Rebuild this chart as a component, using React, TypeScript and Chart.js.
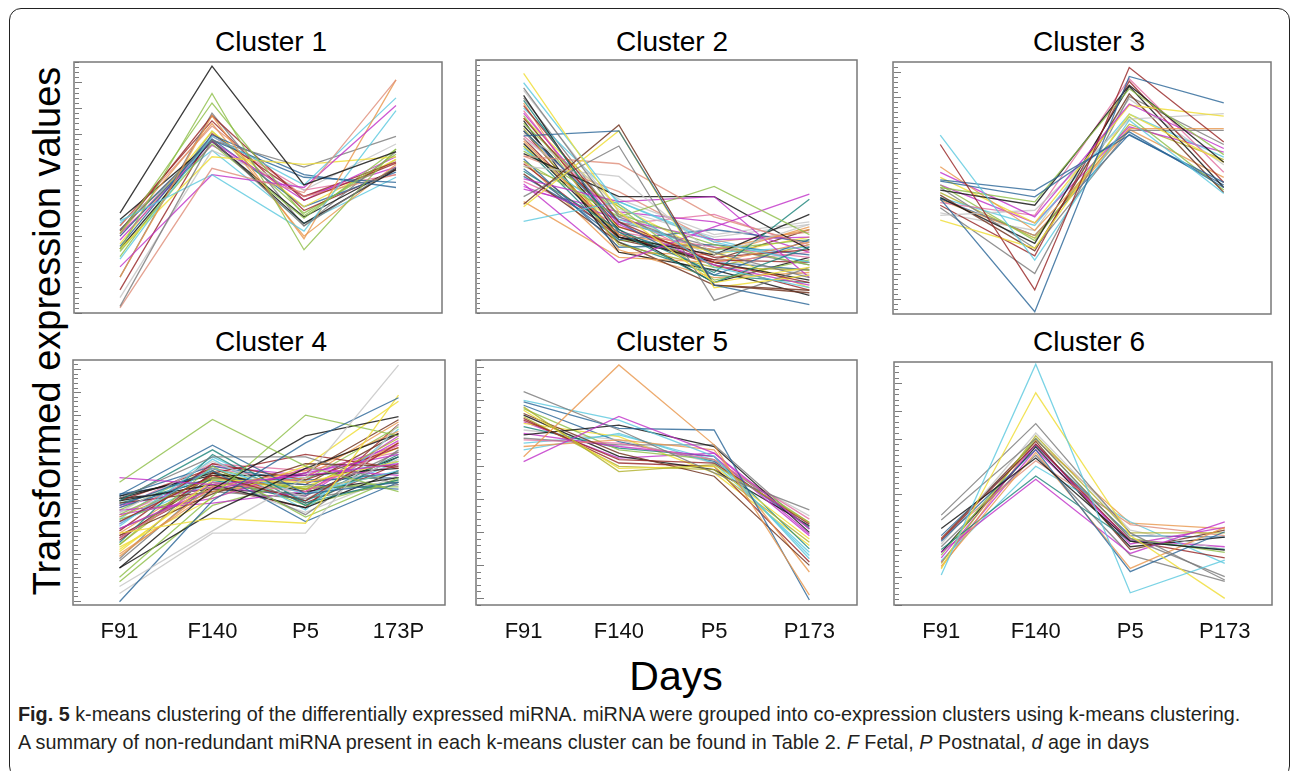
import React, { useEffect, useRef } from 'react';
import { Chart, registerables } from 'chart.js';

Chart.register(...registerables);

// ---------- data ----------
const DAYS = ['F91', 'F140', 'P5', 'P173'];
const DAYS_C4 = ['F91', 'F140', 'P5', '173P'];

// each row: [F91, F140, P5, P173]
const CLUSTER1: number[][] = [
  [3.9, 9.64, 5.0, 6.3], [0.26, 6.75, 3.4, 5.7], [0.2, 5.65, 4.7, 9.1], [2.5, 8.57, 2.47, 6.4],
  [3.1, 8.2, 3.8, 6.2], [3.6, 5.4, 3.2, 7.9], [1.8, 5.4, 4.9, 8.1], [1.4, 7.7, 2.9, 9.1],
  [2.1, 6.9, 5.0, 8.4], [2.5, 6.1, 5.8, 6.1], [3.25, 6.75, 5.7, 6.9], [2.6, 6.95, 5.4, 4.9],
  [3.0, 6.75, 5.3, 5.1], [3.2, 7.7, 4.4, 5.85], [2.5, 6.75, 3.5, 5.6], [2.4, 6.6, 3.7, 6.4],
  [3.4, 7.3, 4.55, 5.4], [2.85, 6.7, 4.4, 6.1], [3.1, 7.4, 3.0, 5.8], [0.9, 7.0, 4.55, 5.9],
  [3.65, 6.7, 3.75, 5.65], [1.4, 7.8, 3.4, 6.3], [0.6, 6.35, 4.8, 6.6], [2.7, 7.1, 4.15, 6.0],
  [3.25, 6.8, 4.15, 5.5], [3.5, 6.35, 3.5, 5.3], [3.4, 7.5, 4.0, 5.6], [2.2, 7.1, 3.9, 6.0],
  [3.0, 6.9, 4.8, 5.4], [3.1, 6.55, 4.55, 5.7],
];
const CLUSTER1_COLORS = ['k', 'g', 's', 'gr', 'gr', 'c', 'm', 'o', 'c', 'y', 'g', 'b', 'b', 'r', 'k',
  'gr', 's', 'm', 'o', 'r', 'k', 'g', 'lg', 'y', 'b', 'c', 'r', 'gr', 'p', 'm'];

const CLUSTER2: number[][] = [
  [9.47, 4.0, 1.2, 1.8], [9.1, 4.3, 1.8, 1.0], [8.9, 3.8, 2.4, 1.4], [8.4, 3.2, 1.2, 2.6],
  [8.2, 3.6, 2.0, 1.2], [7.0, 7.2, 1.1, 0.33], [4.3, 7.43, 1.1, 0.9], [4.2, 7.2, 1.0, 1.5],
  [4.6, 6.6, 0.5, 1.8], [6.2, 5.9, 3.8, 2.7], [5.8, 5.4, 2.3, 3.5], [6.0, 3.8, 5.0, 3.1],
  [5.1, 2.0, 3.4, 4.7], [5.3, 4.4, 4.6, 1.4], [6.3, 4.6, 4.6, 2.5], [3.62, 4.4, 2.8, 2.0],
  [4.4, 2.2, 2.0, 2.8], [5.6, 3.3, 1.6, 4.5], [6.7, 3.0, 2.3, 3.9], [7.2, 3.6, 1.5, 2.9],
  [7.7, 3.4, 2.2, 2.5], [7.5, 3.9, 2.7, 1.9], [6.8, 3.1, 2.5, 3.3], [7.9, 3.5, 1.9, 1.1],
  [6.9, 4.1, 3.0, 3.5], [8.0, 3.2, 2.6, 2.2], [8.6, 3.0, 2.0, 1.3], [6.5, 3.7, 2.4, 2.6],
  [7.3, 2.7, 1.8, 1.7], [6.1, 2.6, 2.7, 2.3], [5.0, 3.7, 2.9, 3.0], [5.5, 2.8, 1.1, 0.8],
  [6.4, 4.2, 1.3, 2.1], [7.1, 4.5, 3.1, 3.6], [7.6, 2.4, 1.7, 0.7], [5.9, 3.0, 2.1, 2.0],
  [8.3, 2.5, 1.4, 1.6], [5.7, 2.9, 3.3, 2.8], [6.6, 3.4, 2.4, 1.0], [7.0, 3.9, 2.0, 2.4],
  [8.8, 4.0, 2.2, 1.5], [7.8, 2.9, 2.5, 2.9], [6.2, 4.8, 2.8, 3.2], [5.4, 3.2, 2.0, 1.7],
  [7.4, 3.3, 1.2, 2.2], [6.0, 2.4, 2.3, 3.4], [8.1, 4.4, 2.9, 2.0], [4.9, 4.0, 3.6, 2.4],
  [6.6, 2.8, 1.5, 1.2], [7.7, 4.2, 2.3, 3.0], [5.2, 3.5, 3.9, 2.6], [6.9, 3.1, 1.9, 0.9],
  [8.5, 3.6, 2.6, 1.9], [5.8, 4.3, 1.8, 2.7], [7.2, 2.9, 2.1, 3.3],
];
const CLUSTER2_COLORS = ['y', 'c', 'g', 't', 'r', 'b', 'br', 'y', 'g', 's', 'lg', 'gr', 'm', 'm', 'k',
  'c', 'o', 't', 'k', 'b', 'r', 'gr', 'o', 'm', 'lg', 'p', 'k', 'c', 'ol', 'b', 'm', 'br', 'gr', 'lg',
  'k', 'r', 'o', 'b', 'y', 'p', 'lg', 'gr', 's', 'b', 'k', 'o', 'c', 'm', 't', 'y', 'p', 'r', 'g', 'ol', 'br'];

const CLUSTER3: number[][] = [
  [4.55, 0.09, 9.39, 8.34], [6.7, 0.95, 9.74, 6.8], [7.07, 2.13, 7.66, 4.76], [5.3, 4.89, 7.07, 5.2],
  [5.25, 4.63, 7.2, 5.0], [5.0, 4.43, 8.9, 6.3], [4.9, 4.3, 9.04, 6.0], [5.82, 3.3, 7.33, 7.33],
  [5.6, 3.84, 8.3, 6.54], [5.4, 3.6, 8.25, 7.82], [3.9, 4.1, 7.7, 7.92], [3.71, 2.6, 7.9, 6.0],
  [4.6, 2.79, 9.0, 5.0], [5.0, 2.6, 7.26, 7.26], [4.3, 2.3, 9.2, 5.2], [4.7, 2.5, 8.7, 4.8],
  [4.4, 3.9, 9.3, 5.6], [4.6, 3.5, 7.9, 6.2], [5.1, 2.9, 7.8, 4.9], [4.2, 1.6, 8.6, 6.7],
  [5.1, 3.6, 7.4, 6.4], [4.5, 3.1, 7.3, 5.4], [4.55, 3.1, 7.1, 5.1], [4.0, 3.3, 8.5, 5.9],
  [4.8, 3.0, 7.5, 6.1],
];
const CLUSTER3_COLORS = ['b', 'r', 'c', 'b', 'b', 'gr', 'k', 'o', 'm', 'y', 'lg', 'y', 'k', 'g', 'r',
  'br', 'p', 'c', 'gr', 'g', 'm', 'o', 'b', 'lg', 'ol'];

const CLUSTER4: number[][] = [
  [0.8, 3.2, 5.5, 10.36], [0.14, 4.5, 7.0, 8.95], [3.1, 3.74, 3.53, 9.06], [5.3, 8.01, 6.0, 4.9],
  [1.2, 4.7, 8.2, 7.3], [1.6, 5.0, 7.3, 8.13], [5.5, 5.2, 5.6, 6.1], [4.75, 6.9, 4.8, 5.3],
  [4.6, 6.4, 6.4, 5.2], [0.5, 3.1, 3.1, 7.8], [4.5, 6.7, 4.4, 5.4], [1.6, 4.0, 5.9, 7.4],
  [3.6, 5.6, 4.5, 7.0], [2.3, 5.4, 5.3, 6.2], [2.1, 5.1, 5.8, 7.5], [3.5, 5.9, 4.8, 5.8],
  [3.3, 5.0, 5.7, 6.5], [2.9, 5.3, 4.9, 6.9], [2.6, 6.0, 3.8, 5.5], [3.0, 4.8, 6.1, 6.0],
  [4.5, 5.2, 4.2, 5.8], [4.3, 5.8, 3.6, 5.3], [3.8, 5.5, 5.0, 7.2], [4.0, 6.2, 4.6, 6.3],
  [3.9, 4.6, 5.9, 5.6], [2.8, 5.7, 6.5, 5.9], [3.4, 6.3, 4.1, 7.6], [2.2, 4.9, 5.5, 7.9],
  [1.9, 5.3, 4.7, 6.6], [3.7, 5.0, 5.1, 5.1], [2.5, 4.6, 6.0, 8.8], [4.2, 5.5, 5.2, 5.0],
  [3.2, 6.1, 5.4, 6.8], [4.1, 4.4, 4.9, 7.1], [4.7, 5.6, 5.6, 5.9], [3.8, 5.9, 5.3, 6.0],
  [2.7, 6.5, 4.3, 6.4], [4.4, 4.9, 5.7, 8.0], [1.0, 4.3, 5.4, 7.7], [2.0, 5.8, 3.9, 6.7],
  [4.6, 5.7, 4.9, 5.5], [4.4, 5.4, 4.5, 6.5], [4.7, 6.0, 5.3, 5.7], [4.3, 5.1, 4.7, 7.3],
  [4.5, 5.9, 4.4, 6.1], [3.6, 5.3, 5.5, 6.2], [3.1, 5.6, 4.9, 7.0], [2.4, 5.2, 5.1, 6.8],
  [3.9, 5.8, 4.3, 5.4], [4.2, 6.1, 5.8, 6.6], [3.3, 4.9, 4.6, 5.2], [2.9, 5.5, 5.2, 7.4],
  [4.0, 5.3, 4.0, 5.6], [3.5, 6.0, 5.6, 6.9], [4.6, 5.0, 4.8, 6.4], [2.6, 5.7, 5.0, 5.7],
  [3.7, 6.4, 4.5, 6.2], [4.8, 5.4, 5.4, 5.5], [3.0, 5.1, 4.2, 7.8], [4.1, 5.9, 5.0, 5.3],
];
const CLUSTER4_COLORS = ['lg', 'b', 'y', 'gr', 'gr', 'k', 'm', 'b', 'g', 'lg', 't', 'k', 'r', 'y', 'o',
  'c', 'm', 'p', 'gr', 'br', 'k', 'b', 'ol', 'lg', 'm', 'r', 'c', 'o', 'g', 'gr', 'y', 'b', 'r', 'm',
  'k', 'p', 't', 'br', 'gr', 'g', 'k', 't', 'b', 'm', 'r', 'c', 'o', 'y', 'gr', 'p', 'g', 'br', 'lg',
  'm', 'k', 'ol', 'c', 'b', 'r', 'gr'];

const CLUSTER5: number[][] = [
  [4.49, 7.27, 4.85, 0.3], [4.34, 5.71, 4.6, 2.3], [6.46, 5.3, 4.0, 2.88], [6.15, 5.35, 5.3, 0.15],
  [6.2, 5.6, 4.5, 1.4], [6.0, 4.04, 4.25, 2.5], [5.9, 4.14, 4.2, 2.0], [5.15, 5.45, 4.8, 2.2],
  [5.6, 4.4, 4.3, 2.45], [5.8, 4.6, 3.9, 1.2], [5.0, 4.9, 4.4, 2.6], [4.8, 5.0, 4.7, 1.0],
  [5.2, 4.8, 4.5, 2.1], [4.7, 5.2, 4.3, 1.6], [5.95, 4.7, 4.4, 2.5], [5.05, 4.85, 4.85, 2.3],
  [5.7, 4.2, 4.1, 1.9], [5.4, 4.75, 4.5, 1.7], [5.75, 4.5, 4.1, 2.4], [5.65, 4.3, 4.2, 1.3],
  [5.5, 5.1, 4.0, 1.8], [5.55, 4.45, 4.6, 2.15], [5.3, 5.0, 4.3, 2.7], [6.05, 4.95, 4.35, 2.35],
  [4.9, 5.15, 4.4, 1.5],
];
const CLUSTER5_COLORS = ['o', 'm', 'g', 'b', 'c', 'ol', 'y', 'k', 'r', 'br', 'p', 'o', 'm', 'c', 'gr',
  'g', 'ol', 't', 'k', 'r', 'y', 'm', 'lg', 'b', 'c'];

const CLUSTER6: number[][] = [
  [1.08, 8.68, 0.44, 1.62], [1.3, 7.65, 2.5, 0.24], [3.24, 6.54, 2.6, 0.9], [3.06, 6.0, 2.4, 1.02],
  [2.76, 5.3, 2.3, 1.98], [2.3, 5.6, 1.2, 2.64], [1.4, 5.5, 1.32, 2.8], [1.9, 4.53, 1.86, 3.0],
  [2.0, 4.65, 2.3, 2.0], [2.35, 5.8, 2.3, 1.7], [1.5, 6.1, 2.6, 2.6], [1.8, 6.0, 2.4, 1.9],
  [2.4, 5.2, 2.9, 2.5], [2.2, 6.2, 2.7, 2.0], [1.7, 5.8, 2.2, 2.8], [2.4, 5.9, 2.0, 2.7],
  [1.6, 5.0, 3.0, 1.5], [1.9, 5.7, 2.1, 2.45], [2.1, 5.4, 1.8, 0.85], [1.35, 5.95, 2.95, 2.75],
  [1.55, 5.6, 2.35, 2.1], [2.5, 5.75, 2.5, 2.45],
];
const CLUSTER6_COLORS = ['c', 'y', 'g', 'g', 'k', 'b', 'o', 'm', 't', 'r', 'ol', 'gr', 's', 'lg', 'm',
  'br', 'c', 'k', 'g', 'o', 'm', 'b'];

// ---------- styles ----------
const PALETTE: Record<string, string> = {
  k: 'rgba(25,25,25,0.85)',
  g: 'rgba(120,120,120,0.8)',
  lg: 'rgba(195,195,195,0.8)',
  b: 'rgba(40,100,150,0.8)',
  c: 'rgba(90,200,222,0.8)',
  gr: 'rgba(140,190,70,0.8)',
  y: 'rgba(240,222,60,0.85)',
  o: 'rgba(232,150,75,0.8)',
  s: 'rgba(222,140,120,0.8)',
  m: 'rgba(192,48,200,0.8)',
  r: 'rgba(150,35,35,0.8)',
  p: 'rgba(226,110,160,0.8)',
  ol: 'rgba(175,175,40,0.8)',
  br: 'rgba(115,55,35,0.85)',
  t: 'rgba(25,130,120,0.8)',
};

type Box = { l: number; t: number; r: number; b: number };
type PanelCfg = {
  title: string;
  titleX: number;
  titleTop: number;
  box: Box;
  yMax: number;
  tickOrigin: number;
  labels: string[];
  rows: number[][];
  colors: string[];
  showX: boolean;
  uniformTicks?: boolean;
};

const PANELS: PanelCfg[] = [
  { title: 'Cluster 1', titleX: 271, titleTop: 28, box: { l: 74, t: 62, r: 442, b: 313 }, yMax: 9.8, tickOrigin: 0, labels: DAYS, rows: CLUSTER1, colors: CLUSTER1_COLORS, showX: false },
  { title: 'Cluster 2', titleX: 672, titleTop: 28, box: { l: 476, t: 60, r: 857, b: 313 }, yMax: 10, tickOrigin: 0, labels: DAYS, rows: CLUSTER2, colors: CLUSTER2_COLORS, showX: false, uniformTicks: true },
  { title: 'Cluster 3', titleX: 1089, titleTop: 28, box: { l: 893, t: 62, r: 1271, b: 314 }, yMax: 9.96, tickOrigin: 0.58, labels: DAYS, rows: CLUSTER3, colors: CLUSTER3_COLORS, showX: false },
  { title: 'Cluster 4', titleX: 271, titleTop: 328, box: { l: 73, t: 360, r: 445, b: 605 }, yMax: 10.58, tickOrigin: 0.19, labels: DAYS_C4, rows: CLUSTER4, colors: CLUSTER4_COLORS, showX: true },
  { title: 'Cluster 5', titleX: 672, titleTop: 328, box: { l: 476, t: 360, r: 857, b: 605 }, yMax: 7.42, tickOrigin: 0.21, labels: DAYS, rows: CLUSTER5, colors: CLUSTER5_COLORS, showX: true },
  { title: 'Cluster 6', titleX: 1089, titleTop: 328, box: { l: 894, t: 362, r: 1272, b: 605 }, yMax: 8.76, tickOrigin: 0, labels: DAYS, rows: CLUSTER6, colors: CLUSTER6_COLORS, showX: true },
];

const PAD = 2;
const XAXIS_H = 45;

const frameAndTicks = {
  id: 'frameAndTicks',
  afterDatasetsDraw(chart: any, _args: any, opts: any) {
    const { ctx, chartArea: a } = chart;
    const y = chart.scales.y;
    ctx.save();
    ctx.strokeStyle = 'rgba(120,120,120,1)';
    ctx.lineWidth = 1.5;
    ctx.strokeRect(a.left, a.top, a.right - a.left, a.bottom - a.top);
    ctx.lineWidth = 1;
    ctx.strokeStyle = 'rgba(110,110,110,0.9)';
    const div = 5;
    const minorStep = 1 / div;
    let k = Math.ceil((y.min - opts.origin) / minorStep);
    for (let guard = 0; guard < 500; guard++, k++) {
      const v = opts.origin + k * minorStep;
      if (v > y.max) break;
      const py = Math.round(y.getPixelForValue(v)) + 0.5;
      const major = ((k % div) + div) % div === 0;
      const len = opts.uniform ? 3 : major ? 7 : 4;
      ctx.beginPath();
      ctx.moveTo(a.left + 1, py);
      ctx.lineTo(a.left + 1 + len, py);
      ctx.stroke();
    }
    ctx.restore();
  },
};

function Panel({ cfg }: { cfg: PanelCfg }) {
  const ref = useRef<HTMLCanvasElement | null>(null);
  const w = cfg.box.r - cfg.box.l + PAD * 2;
  const h = cfg.box.b - cfg.box.t + PAD * 2 + (cfg.showX ? XAXIS_H - PAD : 0);

  useEffect(() => {
    if (!ref.current) return;
    const xScale: any = {
      type: 'category',
      offset: true,
      display: cfg.showX,
      grid: { display: false, drawTicks: false },
      border: { display: false },
      ticks: {
        font: { family: '"Liberation Sans", Arial, sans-serif', size: 22 },
        color: '#111',
        padding: 14,
        maxRotation: 0,
        autoSkip: false,
      },
    };
    if (cfg.showX) {
      xScale.afterFit = (s: any) => {
        s.height = XAXIS_H;
      };
    }
    const chart = new Chart(ref.current, {
      type: 'line',
      data: {
        labels: cfg.labels,
        datasets: cfg.rows.map((row, i) => ({
          data: row,
          borderColor: PALETTE[cfg.colors[i]] || PALETTE.g,
          borderWidth: 1.3,
          pointRadius: 0,
          tension: 0,
          fill: false,
        })),
      },
      options: {
        responsive: false,
        animation: false,
        devicePixelRatio: 1,
        layout: { padding: { left: PAD, right: PAD, top: PAD, bottom: cfg.showX ? 0 : PAD } },
        plugins: {
          legend: { display: false },
          tooltip: { enabled: false },
          // @ts-ignore
          frameAndTicks: { origin: cfg.tickOrigin, uniform: !!cfg.uniformTicks },
        },
        scales: {
          x: xScale,
          y: {
            type: 'linear',
            min: 0,
            max: cfg.yMax,
            display: false,
          },
        },
      },
      plugins: [frameAndTicks],
    });
    return () => chart.destroy();
  }, [cfg]);

  return (
    <>
      <div
        style={{
          position: 'absolute',
          left: cfg.titleX - 150,
          top: cfg.titleTop,
          width: 300,
          textAlign: 'center',
          fontFamily: '"Liberation Sans", Arial, sans-serif',
          fontSize: 28,
          lineHeight: '28px',
          color: '#000',
          whiteSpace: 'nowrap',
        }}
      >
        {cfg.title}
      </div>
      <canvas
        ref={ref}
        width={w}
        height={h}
        style={{ position: 'absolute', left: cfg.box.l - PAD, top: cfg.box.t - PAD, width: w, height: h }}
      />
    </>
  );
}

export default function App() {
  return (
    <div
      style={{
        position: 'absolute',
        left: 0,
        top: 0,
        width: 1290,
        height: 771,
        overflow: 'hidden',
        background: '#fff',
        fontFamily: '"Liberation Sans", Arial, sans-serif',
      }}
    >
      <div
        style={{
          position: 'absolute',
          left: 9,
          top: 8,
          width: 1281,
          height: 770,
          boxSizing: 'border-box',
          border: '1.5px solid #222',
          borderRadius: 12,
        }}
      />
      {PANELS.map((p) => (
        <Panel key={p.title} cfg={p} />
      ))}
      <div
        style={{
          position: 'absolute',
          left: 46.5,
          top: 331,
          transform: 'translate(-50%, -50%) rotate(-90deg)',
          fontSize: 38,
          lineHeight: '38px',
          whiteSpace: 'nowrap',
          color: '#000',
        }}
      >
        Transformed expression values
      </div>
      <div
        style={{
          position: 'absolute',
          left: 576,
          width: 200,
          top: 656,
          textAlign: 'center',
          fontSize: 41,
          lineHeight: '41px',
          color: '#000',
        }}
      >
        Days
      </div>
      <div
        style={{
          position: 'absolute',
          left: 18,
          top: 700,
          width: 1265,
          fontFamily: '"Liberation Sans", Arial, sans-serif',
          fontSize: 19.8,
          lineHeight: '28px',
          color: '#231f20',
          whiteSpace: 'nowrap',
        }}
      >
        <div>
          <b>Fig. 5</b> k-means clustering of the differentially expressed miRNA. miRNA were grouped into co-expression clusters using k-means clustering.
        </div>
        <div>
          A summary of non-redundant miRNA present in each k-means cluster can be found in Table 2. <i>F</i> Fetal, <i>P</i> Postnatal, <i>d</i> age in days
        </div>
      </div>
    </div>
  );
}
